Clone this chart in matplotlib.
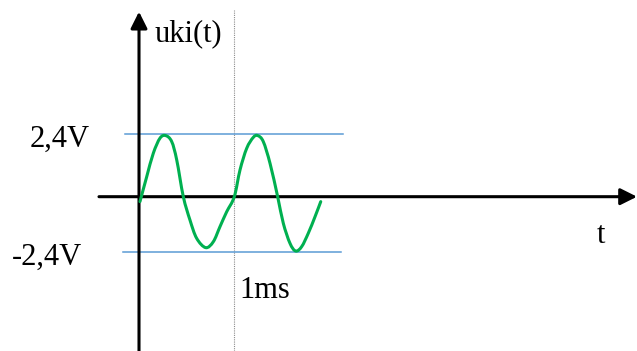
import matplotlib
matplotlib.use("Agg")
import matplotlib.pyplot as plt
from matplotlib.path import Path
from matplotlib.patches import PathPatch

t_ms = [0.010, 0.081, 0.150, 0.220, 0.280, 0.343, 0.396, 0.465, 0.535, 0.605,
        0.700, 0.780, 0.850, 0.920, 1.000, 1.060, 1.130, 1.199, 1.246, 1.304,
        1.375, 1.455, 1.514, 1.584, 1.644, 1.707, 1.777, 1.847, 1.907]
u_v = [-0.19, 0.77, 1.67, 2.25, 2.35, 2.12, 1.41, 0.00, -0.90, -1.60,
       -1.96, -1.73, -1.15, -0.58, 0.00, 1.03, 1.86, 2.28, 2.35, 2.12,
       1.28, 0.00, -1.02, -1.79, -2.09, -1.92, -1.40, -0.77, -0.19]

# level lines (as drawn) and their labels
level_u = [2.4, -2.12]
level_t0 = [-0.147, -0.168]
level_t1 = [2.141, 2.120]
level_labels = ["2,4V", "-2,4V"]

period_ms = 1.0
y_label = "uki(t)"
x_label = "t"
period_label = "1ms"

green = "#00B050"
blue = "#5B9BD5"

plt.rcParams['font.family'] = ['Liberation Serif', 'DejaVu Serif']

fig = plt.figure(figsize=(6.37, 3.51), dpi=100)
ax = fig.add_axes([0, 0, 1, 1])
ax.set_xlim(-1.4586, 5.2256)
ax.set_ylim(-5.935, 7.565)
ax.axis("off")

# 1ms marker
ax.plot([period_ms, period_ms], [-5.935, 7.18], color="#8c8c8c", lw=0.8,
        linestyle=(0, (1, 1)), zorder=1)

# +/- level lines
for u, a, b in zip(level_u, level_t0, level_t1):
    ax.plot([a, b], [u, u], color=blue, lw=1.1, zorder=2)

# axes with arrows
arrow = dict(arrowstyle="-|>", lw=2.2, color="black", mutation_scale=25,
             shrinkA=0, shrinkB=0)
ax.annotate("", xy=(0, 7.115), xytext=(0, -6.2), arrowprops=arrow, zorder=3)
ax.annotate("", xy=(5.2256, 0), xytext=(-0.42, 0), arrowprops=arrow, zorder=3)

# smooth curve through the samples (Catmull-Rom as cubic Bezier)
pts = list(zip(t_ms, u_v))
verts = [pts[0]]
codes = [Path.MOVETO]
n = len(pts)
for i in range(n - 1):
    p0 = pts[max(i - 1, 0)]
    p1 = pts[i]
    p2 = pts[i + 1]
    p3 = pts[min(i + 2, n - 1)]
    c1 = (p1[0] + (p2[0] - p0[0]) / 6, p1[1] + (p2[1] - p0[1]) / 6)
    c2 = (p2[0] - (p3[0] - p1[0]) / 6, p2[1] - (p3[1] - p1[1]) / 6)
    verts += [c1, c2, p2]
    codes += [Path.CURVE4] * 3
ax.add_patch(PathPatch(Path(verts, codes), facecolor="none", edgecolor=green,
                       lw=2.2, capstyle="round", joinstyle="round", zorder=4))

fs = 22
ax.text(-0.514, 1.92, level_labels[0], fontsize=fs, ha="right", va="baseline")
ax.text(-0.601, -2.63, level_labels[1], fontsize=fs, ha="right", va="baseline")
ax.text(0.168, 5.99, y_label, fontsize=fs, ha="left", va="baseline")
ax.text(1.049, -3.88, period_label, fontsize=fs, ha="left", va="baseline")
ax.text(4.806, -1.78, x_label, fontsize=fs, ha="left", va="baseline")

fig.savefig("out.png", dpi=100)
